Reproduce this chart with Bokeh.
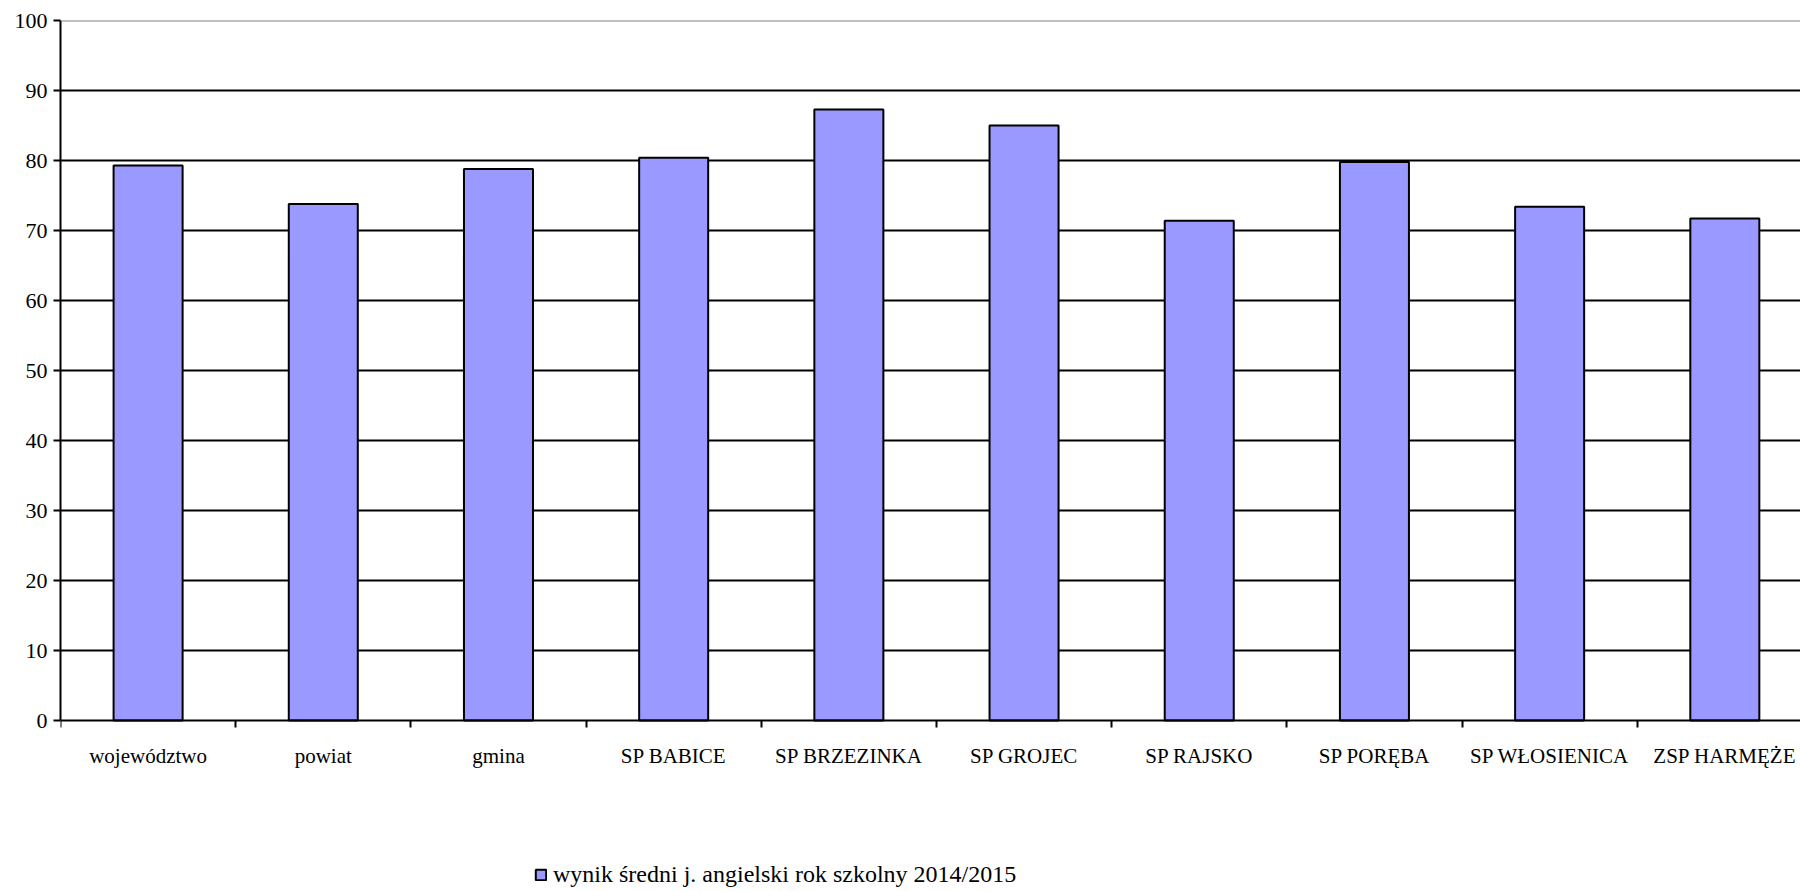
from bokeh.plotting import figure
from bokeh.models import Range1d, FixedTicker, Legend, LegendItem, Span
from bokeh.embed import file_html
from bokeh.resources import INLINE
import numpy as np

categories = ["województwo", "powiat", "gmina", "SP BABICE", "SP BRZEZINKA",
              "SP GROJEC", "SP RAJSKO", "SP PORĘBA", "SP WŁOSIENICA", "ZSP HARMĘŻE"]
values = [79.3, 73.8, 78.8, 80.4, 87.3, 85.0, 71.4, 79.8, 73.4, 71.7]
y_ticks = [0, 10, 20, 30, 40, 50, 60, 70, 80, 90, 100]
series_name = "wynik średni j. angielski rok szkolny 2014/2015"

FONT = "Liberation Serif"

x = np.arange(len(categories)) + 0.5

# frame: 7 px per unit, extended below 0 to hold the legend
p = figure(frame_width=1740, frame_height=868, output_backend="svg", toolbar_location=None,
           x_range=Range1d(0, 9.932), y_range=Range1d(-168 / 7, 100),
           min_border_left=60, min_border_top=20, min_border_right=0,
           min_border_bottom=0)
p.background_fill_color = "white"
p.border_fill_color = "white"
p.outline_line_color = None

r = p.vbar(x=x, top=values, width=0.394, bottom=0,
           fill_color="#9999FF", line_color="black", line_width=2)

p.add_layout(Span(location=100, dimension="width", line_color="#808080", line_width=2))

# y axis
p.yaxis.ticker = FixedTicker(ticks=y_ticks)
p.yaxis.bounds = (0, 100)
p.yaxis.axis_line_color = "black"
p.yaxis.axis_line_width = 2
p.yaxis.major_tick_line_color = "black"
p.yaxis.major_tick_line_width = 2
p.yaxis.major_tick_out = 7
p.yaxis.major_tick_in = 0
p.yaxis.minor_tick_line_color = None
p.yaxis.major_label_text_font = FONT
p.yaxis.major_label_text_font_size = "22px"
p.yaxis.major_label_text_color = "black"
p.yaxis.major_label_standoff = 6

# x axis at y = 0: labels at centres, ticks at category boundaries
p.xaxis.fixed_location = 0
p.xaxis.ticker = FixedTicker(ticks=list(x), minor_ticks=list(range(0, len(categories) + 1)))
p.xaxis.major_label_overrides = {float(xx): c for xx, c in zip(x, categories)}
p.xaxis.axis_line_color = "black"
p.xaxis.axis_line_width = 2
p.xaxis.major_tick_line_color = None
p.xaxis.major_tick_out = 0
p.xaxis.major_tick_in = 0
p.xaxis.minor_tick_line_color = "black"
p.xaxis.minor_tick_line_width = 2
p.xaxis.minor_tick_out = 7
p.xaxis.minor_tick_in = 0
p.xaxis.major_label_text_font = FONT
p.xaxis.major_label_text_font_size = "21px"
p.xaxis.major_label_text_color = "black"
p.xaxis.major_label_standoff = 16

p.xgrid.grid_line_color = None
p.ygrid.ticker = FixedTicker(ticks=y_ticks[1:-1])
p.ygrid.grid_line_color = "black"
p.ygrid.grid_line_width = 2

legend = Legend(items=[LegendItem(label=series_name, renderers=[r])],
                location=(474, 0), orientation="horizontal",
                glyph_width=13, glyph_height=13, label_standoff=6,
                padding=0, margin=0, spacing=0,
                border_line_color=None, background_fill_alpha=0,
                label_text_font=FONT, label_text_font_size="24px",
                label_text_color="black")
p.add_layout(legend, "center")

open("out.html", "w").write(file_html(p, INLINE))
